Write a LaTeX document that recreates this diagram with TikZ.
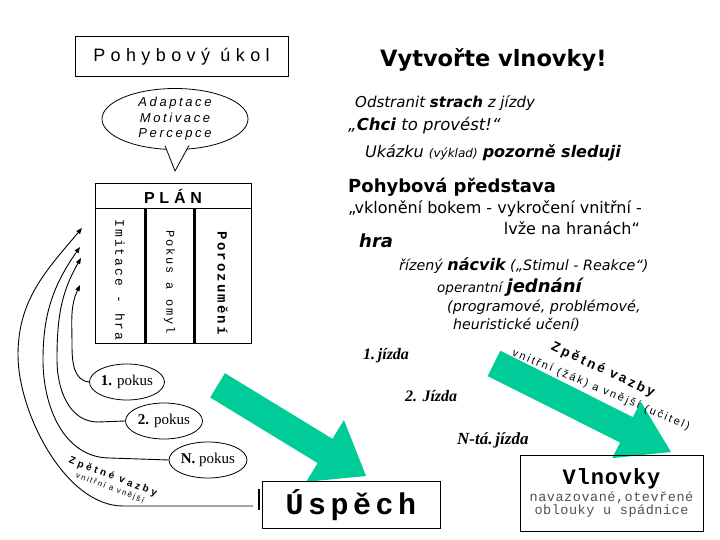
\documentclass[tikz,border=0pt]{standalone}
\usepackage{fontspec}
\setmainfont{Liberation Serif}
\newfontfamily\verdana{DejaVu Sans}
\newfontfamily\widesans[LetterSpace=30]{Liberation Sans}
\newfontfamily\airysans[LetterSpace=20]{Liberation Sans}
\newfontfamily\widemono[LetterSpace=15]{Liberation Mono}
\newfontfamily\mono[LetterSpace=4]{Liberation Mono}
\usepackage{tikz}
\usetikzlibrary{positioning,arrows.meta,shapes.geometric,shapes.arrows}
\definecolor{vlna}{RGB}{0,204,153}
\definecolor{popis}{RGB}{80,80,80}
\newcommand{\fsz}[1]{\fontsize{#1}{#1}\selectfont}

\begin{document}
\begin{tikzpicture}[x=10pt, y=10pt,
		box/.style={draw=black, line width=1pt, rectangle, inner sep=0pt, align=center},
		bubble/.style={draw=black, line width=0.8pt, ellipse, fill=white, inner sep=0pt,
				minimum width=146pt, minimum height=54pt, align=center,
				font=\airysans\itshape\fontsize{13}{15.5}\selectfont},
		colbox/.style={draw=black, line width=1pt, rectangle, inner sep=0pt, minimum height=135pt},
		coltext/.style={rotate=-90, inner sep=0pt},
		divider/.style={line width=2.2pt},
		pokus/.style={draw=black, line width=0.8pt, ellipse, inner sep=0pt,
				minimum height=36pt, font=\fsz{15}},
		txt/.style={anchor=base west, inner sep=0pt, font=\verdana\itshape\fsz{15}},
		jizda/.style={anchor=base west, inner sep=0pt, font=\bfseries\itshape\fsz{16}},
		fb/.style={-{Triangle[length=6pt,width=4.5pt]}, line width=0.9pt},
		vlnarrow/.style={single arrow, fill=vlna, inner xsep=0pt, inner ysep=14pt, single arrow head indent=0pt},
	]
	\useasboundingbox (0,0) rectangle (72,54);
	\node[box, minimum width=213pt, minimum height=40pt, font=\widesans\fsz{18}] (ukol) at (18.15,48.3) {Pohybový úkol};
	\node[bubble] (motiv) at (17.5,42.1) {Adaptace\\Motivace\\Percepce};
	\fill[white] (16.45,39.7) -- (17.5,36.9) -- (18.95,39.7) -- cycle;
	\draw[line width=0.8pt] (16.5,39.43) -- (17.5,36.9) -- (18.9,39.45);
	\node[box, minimum width=156pt, minimum height=25pt, font=\widesans\bfseries\fsz{16}] (plan) at (17.3,34.35) {PLÁN};
	\node[colbox, minimum width=50pt] (c1) at (12.0,26.35) {};
	\node[colbox, minimum width=49pt] (c2) at (16.95,26.35) {};
	\node[colbox, minimum width=57pt] (c3) at (22.25,26.35) {};
	\draw[divider] (c1.north east) -- (c1.south east);
	\draw[divider] (c2.north east) -- (c2.south east);
	\node[coltext, font=\widemono\fsz{13}] (t1) at (12.0,26.0) {Imitace - hra};
	\node[coltext, font=\widemono\fsz{12}] (t2) at (16.95,25.8) {Pokus a omyl};
	\node[coltext, font=\widemono\bfseries\fsz{14}] (t3) at (22.25,25.7) {Porozumění};
	\node[pokus, minimum width=75pt] (p1) at (12.7,15.8) {\textbf{1.} pokus};
	\node[pokus, minimum width=77pt] (p2) at (16.4,11.9) {\textbf{2.} pokus};
	\node[pokus, minimum width=78pt] (pN) at (20.8,8.0) {\textbf{N.} pokus};
	\node[vlnarrow, minimum height=174pt, single arrow head extend=22pt,
		single arrow tip angle=74, rotate=-31.4] (sipL) at (28.375,11.425) {};
	\node[vlnarrow, minimum height=198pt, single arrow head extend=17.5pt,
		single arrow tip angle=65, rotate=-26.6] (sipR) at (57.25,13.725) {};
	\node[box, minimum width=178pt, minimum height=47pt, font=\widemono\bfseries\fsz{30}] (uspech) at (35.1,3.45) {Úspěch};
	\draw[line width=2.2pt] (25.9,5.1) -- (25.9,3.0);
	\coordinate (uspT) at (25.3,3.4);
	\draw[fb] (p1.west) to[out=175,in=-90] (7.2,19.5) to[out=90,in=-115] (8.0,25.5);
	\draw[fb] (p2.west) -- (9.8,11.8) to[out=180,in=-90] (5.7,18.0) to[out=90,in=-120] (8.1,28.2);
	\draw[fb] (pN.west) -- (11.0,8.2) to[out=180,in=-90] (4.3,18.0) to[out=90,in=-125] (8.0,29.3);
	\draw[fb] (uspT) -- (12.3,3.4) to[out=180,in=-90,looseness=0.8] (1.8,18.5) to[out=90,in=-130] (8.2,31.2);
	\node[font=\widesans\bfseries\fsz{10}, rotate=-21, inner sep=0pt] (zvL) at (11.3,6.3) {Zpětné vazby};
	\node[font=\airysans\fsz{8}, rotate=-21, inner sep=0pt] (vvL) at (11.0,5.2) {vnitřní a vnější};
	\node[txt, font=\verdana\bfseries\fsz{22.5}] (vyzva) at (38.0,47.3) {Vytvořte vlnovky!};
	\node[txt] (strach) at (35.5,43.2) {Odstranit \textbf{strach} z jízdy};
	\node[txt, font=\verdana\itshape\fsz{16.5}] (chci) at (34.8,40.9) {„\textbf{Chci} to provést!“};
	\node[txt, font=\verdana\itshape\fsz{16}] (ukazka) at (36.5,38.2) {Ukázku {\fsz{12}(výklad)} \textbf{pozorně sleduji}};
	\node[txt, font=\verdana\bfseries\fsz{18}] (predstava) at (34.8,34.7) {Pohybová představa};
	\node[txt, font=\verdana\fsz{16}] (vkloneni) at (34.8,32.6) {„vklonění bokem - vykročení vnitřní -};
	\node[txt, font=\verdana\fsz{16}, anchor=base east] (lvze) at (64.0,30.5) {lvže na hranách“};
	\node[txt, font=\verdana\bfseries\itshape\fsz{18}] (hra) at (35.9,29.2) {hra};
	\node[txt, font=\verdana\itshape\fsz{14.3}] (nacvik) at (39.9,26.9) {řízený {\bfseries\fsz{16}nácvik} („Stimul - Reakce“)};
	\node[txt, font=\verdana\itshape\fsz{13.5}] (jednani) at (43.7,24.7) {operantní {\bfseries\fsz{18}jednání}};
	\node[txt, font=\verdana\itshape\fsz{14.4}] (program) at (44.7,22.8) {(programové, problémové,};
	\node[txt, font=\verdana\itshape\fsz{14.2}] (heur) at (45.3,21.0) {heuristické učení)};
	\node[jizda] (j1) at (36.3,18.0) {1.\,jízda};
	\node[jizda] (j2) at (40.5,13.8) {2. Jízda};
	\node[jizda, font=\bfseries\itshape\fsz{17}] (jN) at (45.7,9.5) {N-tá.\,jízda};
	\node[font=\airysans\bfseries\fsz{13.5}, rotate=-25, inner sep=0pt] (zvR) at (60.3,17.0) {Zpětné vazby};
	\node[font=\airysans\fsz{11}, rotate=-23, inner sep=0pt] (vvR) at (60.1,15.0) {vnitřní (žák) a vnější (učitel)};
	\node[box, line width=0.8pt, minimum width=183pt, minimum height=76pt, font=\mono] (vlnovky) at (61.15,4.7)
	{{\bfseries\fontsize{22}{22}\selectfont Vlnovky}\\[2pt]
		{\color{popis}\fontsize{13.5}{20}\selectfont navazované,otevřené}\\
		{\color{popis}\fontsize{13.5}{20}\selectfont oblouky u spádnice}};
\end{tikzpicture}
\end{document}
